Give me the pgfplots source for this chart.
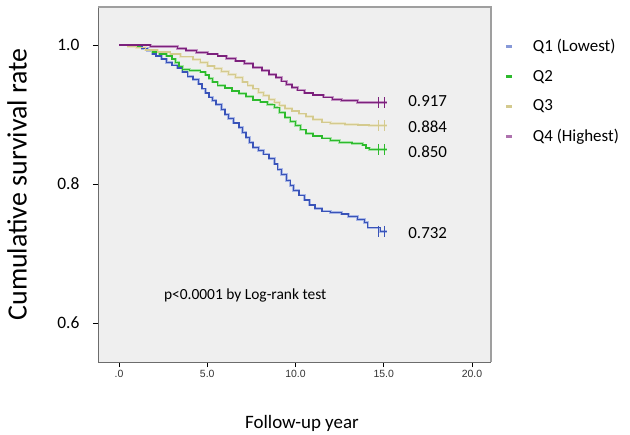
\documentclass[border=0pt]{standalone}
\usepackage{pgfplots}
\pgfplotsset{compat=1.18}
\usepackage{pgfplotstable}
\usepackage{fontspec}
\setmainfont{Carlito}
\newfontfamily\arialf{Liberation Sans}

\definecolor{cblue}{HTML}{3953B8}
\definecolor{cbluel}{HTML}{A9B7E6}
\definecolor{cgreen}{HTML}{2DBA2D}
\definecolor{cgreenl}{HTML}{A6E3A6}
\definecolor{ctan}{HTML}{D4CA8E}
\definecolor{ctanl}{HTML}{E9E4C8}
\definecolor{cpurp}{HTML}{7C217C}
\definecolor{cpurpl}{HTML}{C495C4}
\definecolor{bgc}{HTML}{EFEFEF}

\pgfplotstableread{
t S
0 1.000
1.8 0.998
3.3 0.995
3.8 0.992
4.4 0.989
5.0 0.987
5.6 0.984
6.1 0.981
6.6 0.977
7.1 0.973
7.6 0.968
8.1 0.963
8.5 0.958
8.9 0.953
9.2 0.948
9.5 0.943
9.8 0.939
10.1 0.935
10.5 0.931
11.0 0.928
11.6 0.925
12.1 0.922
12.6 0.920
13.5 0.917
15.2 0.917
}\qfour

\pgfplotstableread{
t S
0 1.000
0.5 0.998
1.0 0.996
1.5 0.993
2.2 0.990
2.9 0.987
3.5 0.983
4.2 0.979
4.6 0.975
5.0 0.970
5.4 0.966
5.8 0.962
6.2 0.958
6.6 0.953
7.0 0.947
7.3 0.942
7.6 0.937
7.9 0.932
8.2 0.927
8.5 0.922
8.8 0.917
9.1 0.913
9.4 0.909
9.8 0.905
10.2 0.901
10.6 0.897
11.0 0.893
11.5 0.889
12.0 0.887
12.8 0.886
13.5 0.885
14.2 0.884
15.2 0.884
}\qthree

\pgfplotstableread{
t S
0 1.000
0.8 0.998
1.2 0.996
1.5 0.993
1.9 0.990
2.3 0.987
2.7 0.984
3.0 0.980
3.2 0.975
3.4 0.969
3.6 0.965
4.0 0.963
4.6 0.961
4.9 0.957
5.1 0.952
5.3 0.947
5.6 0.942
6.0 0.938
6.4 0.934
6.8 0.930
7.2 0.926
7.6 0.921
8.0 0.918
8.4 0.914
8.8 0.910
9.1 0.903
9.4 0.896
9.7 0.890
10.0 0.884
10.3 0.878
10.6 0.873
11.0 0.869
11.5 0.866
12.0 0.863
12.5 0.860
13.2 0.858
13.8 0.856
14.0 0.852
14.2 0.850
15.2 0.850
}\qtwo

\pgfplotstableread{
t S
0 1.000
0.6 0.999
1.0 0.997
1.3 0.995
1.6 0.992
1.9 0.987
2.1 0.984
2.4 0.980
2.7 0.975
3.0 0.971
3.3 0.967
3.6 0.961
3.9 0.955
4.2 0.950
4.5 0.944
4.7 0.937
4.9 0.931
5.1 0.925
5.3 0.920
5.5 0.914
5.8 0.907
6.0 0.900
6.2 0.894
6.5 0.888
6.8 0.881
7.0 0.874
7.2 0.867
7.4 0.860
7.6 0.853
7.9 0.848
8.2 0.843
8.5 0.837
8.8 0.829
9.0 0.821
9.2 0.814
9.5 0.805
9.7 0.798
9.9 0.791
10.2 0.784
10.5 0.777
10.8 0.770
11.1 0.765
11.5 0.761
12.0 0.759
12.6 0.757
13.0 0.753
13.5 0.749
13.9 0.745
14.1 0.737
14.8 0.732
15.2 0.732
}\qone

\begin{document}
\begin{tikzpicture}
\useasboundingbox (0,0) rectangle (630bp,435bp);
\begin{axis}[
  at={(98bp,73bp)}, anchor=south west,
  scale only axis, width=393bp, height=355bp,
  xmin=-1.19, xmax=21.08, ymin=0.544, ymax=1.0547,
  axis line style={draw=none},
  axis background/.style={fill=bgc},
  tick align=outside, tick pos=left,
  major tick length=5bp,
  tick style={black, line width=0.8bp},
  xtick={0,5,10,15,20},
  xticklabels={.0,5.0,10.0,15.0,20.0},
  ytick={0.6,0.8,1.0},
  yticklabels={0.6,0.8,1.0},
  /pgf/number format/assume math mode=true,
  xticklabel style={font=\arialf\fontsize{10.5}{12}\selectfont, text=black!80},
  yticklabel style={font=\fontsize{17.5}{20}\selectfont, xshift=-10bp},
  xlabel={Follow-up year},
  ylabel={Cumulative survival rate},
  xlabel style={font=\fontsize{19}{22}\selectfont, at={(axis description cs:0.519,-0.172)}, anchor=center},
  ylabel style={font=\fontsize{28}{32}\selectfont, at={(axis description cs:-0.206,0.5)}, anchor=center},
  legend style={draw=none, fill=none, at={(axis description cs:1.03,0.92)}, anchor=north west,
     font=\fontsize{17}{20}\selectfont, row sep=13bp},
  legend cell align=left,
  clip=false,
]
% frame
\draw[gray!85!black, line width=1bp] (rel axis cs:0,1) -- (rel axis cs:0,0) -- (rel axis cs:1,0);
\draw[gray!75, line width=2.2bp] (rel axis cs:0,1) -- (rel axis cs:1,1) -- (rel axis cs:1,0);

\addlegendimage{only marks, mark=-, mark size=3bp, line width=2.8bp, color=cbluel!70!cblue}
\addlegendentry{\hspace{19bp}Q1 (Lowest)}
\addlegendimage{only marks, mark=-, mark size=3bp, line width=2.8bp, color=cgreen}
\addlegendentry{\hspace{19bp}Q2}
\addlegendimage{only marks, mark=-, mark size=3bp, line width=2.8bp, color=ctan}
\addlegendentry{\hspace{19bp}Q3}
\addlegendimage{only marks, mark=-, mark size=3bp, line width=2.8bp, color=cpurpl!70!cpurp}
\addlegendentry{\hspace{19bp}Q4 (Highest)}

% halos
\addplot[const plot, cbluel, line width=2.6bp, forget plot] table[x=t,y=S] {\qone};
\addplot[const plot, cgreenl, line width=2.6bp, forget plot] table[x=t,y=S] {\qtwo};
\addplot[const plot, ctanl, line width=2.6bp, forget plot] table[x=t,y=S] {\qthree};
\addplot[const plot, cpurpl, line width=2.6bp, forget plot] table[x=t,y=S] {\qfour};

\addplot[const plot, cblue, line width=1.3bp, forget plot] table[x=t,y=S] {\qone};
\addplot[const plot, cgreen, line width=1.3bp, forget plot] table[x=t,y=S] {\qtwo};
\addplot[const plot, ctan, line width=1.3bp, forget plot] table[x=t,y=S] {\qthree};
\addplot[const plot, cpurp, line width=1.3bp, forget plot] table[x=t,y=S] {\qfour};

% censor marks
\addplot[only marks, mark=|, mark size=5.5bp, cblue, line width=1.4bp, forget plot] coordinates {(14.7,0.732) (15.05,0.732)};
\addplot[only marks, mark=|, mark size=5.5bp, cgreen, line width=1.4bp, forget plot] coordinates {(14.7,0.850) (15.05,0.850)};
\addplot[only marks, mark=|, mark size=5.5bp, ctan, line width=1.4bp, forget plot] coordinates {(14.7,0.884) (15.05,0.884)};
\addplot[only marks, mark=|, mark size=5.5bp, cpurp, line width=1.4bp, forget plot] coordinates {(14.7,0.917) (15.05,0.917)};

% value labels
\node[anchor=west, font=\fontsize{17}{20}\selectfont] at (axis cs:16.2,0.919) {0.917};
\node[anchor=west, font=\fontsize{17}{20}\selectfont] at (axis cs:16.2,0.882) {0.884};
\node[anchor=west, font=\fontsize{17}{20}\selectfont] at (axis cs:16.2,0.847) {0.850};
\node[anchor=west, font=\fontsize{17}{20}\selectfont] at (axis cs:16.2,0.730) {0.732};

\node[font=\fontsize{15.5}{18}\selectfont] at (axis cs:7.15,0.639) {p<0.0001 by Log-rank test};
\end{axis}
\end{tikzpicture}
\end{document}
